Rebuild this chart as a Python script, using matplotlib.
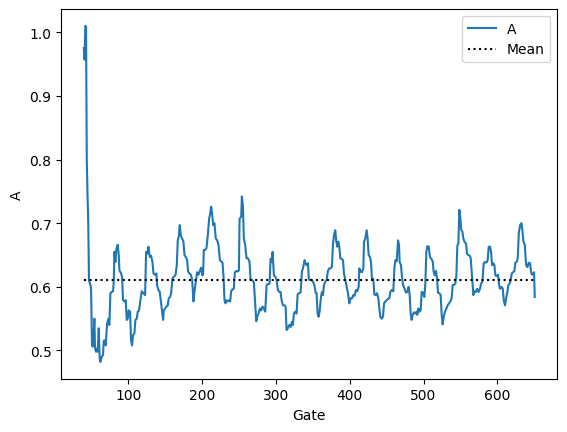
import numpy as np
import matplotlib
matplotlib.use("Agg")
from matplotlib import pyplot as plt

# values (gate, A)
gate = [
    40, 41, 42, 43, 44, 45, 46, 47, 48.9, 49.8,
    51.1, 52.0, 52.9, 54.3, 55.2, 56.5, 57.9, 58.8, 60.2, 61.5,
    62.4, 64.2, 66.0, 66.9, 67.8, 69.6, 71.5, 73.3, 74.6, 76.0,
    77.8, 79.6, 80.5, 81.4, 82.8, 84.1, 85.9, 87.3, 88.2, 90.4,
    91.8, 93.1, 94.9, 96.8, 98.1, 99.5, 100.8, 102.6, 104.0, 105.3,
    106.7, 108.5, 109.9, 111.7, 113.0, 114.8, 116.6, 118.4, 120.7, 123.0,
    124.3, 126.1, 127.5, 129.3, 131.1, 132.9, 134.3, 136.5, 138.3, 139.2,
    141.0, 142.8, 144.6, 146.0, 147.4, 148.3, 150.1, 151.9, 153.7, 155.0,
    156.9, 158.2, 160.0, 161.8, 164.1, 165.9, 167.2, 168.6, 169.9, 171.3,
    173.1, 174.9, 176.3, 178.1, 179.9, 181.2, 183.0, 184.9, 186.7, 188.5,
    189.8, 191.6, 193.4, 195.3, 197.1, 198.9, 200.7, 201.6, 202.5, 204.3,
    206.1, 207.9, 209.7, 211.1, 212.4, 213.8, 215.1, 216.9, 218.7, 220.6,
    222.4, 224.2, 226.0, 227.8, 229.1, 230.5, 231.8, 233.2, 235.0, 236.8,
    238.2, 239.5, 241.3, 243.1, 244.5, 246.8, 248.6, 250.0, 250.9, 253.1,
    254.0, 255.4, 256.7, 258.5, 260.3, 262.2, 264.4, 265.8, 267.6, 270.3,
    272.1, 273.5, 274.8, 276.6, 278.4, 280.2, 282.0, 283.8, 285.6, 287.5,
    289.3, 291.5, 292.9, 294.7, 295.6, 297.4, 299.2, 301.0, 302.8, 304.6,
    306.4, 307.8, 309.6, 311.9, 313.2, 314.6, 316.4, 318.2, 320.0, 321.8,
    323.1, 324.5, 326.3, 328.1, 329.5, 331.3, 333.5, 335.3, 336.7, 339.0,
    340.3, 341.7, 343.5, 344.8, 346.6, 348.4, 350.3, 352.1, 353.9, 355.2,
    356.6, 357.9, 359.3, 361.1, 362.5, 363.8, 365.2, 367.0, 368.8, 370.6,
    372.4, 374.2, 376.0, 377.4, 379.2, 380.5, 381.9, 383.2, 384.6, 386.0,
    387.3, 389.1, 390.9, 392.3, 394.1, 395.9, 397.7, 399.5, 401.3, 403.1,
    404.9, 406.7, 408.5, 410.3, 412.2, 413.1, 414.9, 416.7, 418.5, 419.4,
    421.2, 423.0, 424.3, 425.7, 427.5, 428.9, 430.2, 432.0, 433.4, 435.2,
    437.0, 438.8, 440.2, 441.5, 443.3, 445.1, 446.5, 448.3, 450.1, 451.9,
    453.7, 455.1, 456.9, 459.1, 460.5, 461.9, 463.7, 465.5, 466.8, 467.7,
    469.5, 470.8, 472.2, 474.4, 476.2, 478.1, 479.9, 481.2, 482.6, 483.9,
    485.3, 487.1, 488.9, 490.7, 491.6, 493.0, 494.3, 496.1, 497.5, 499.3,
    501.1, 502.4, 503.8, 505.2, 507.0, 508.8, 510.6, 512.4, 513.7, 515.1,
    516.9, 518.3, 519.6, 521.4, 523.2, 524.6, 525.9, 527.3, 529.1, 530.9,
    532.7, 534.5, 536.3, 538.1, 539.5, 541.3, 543.1, 544.5, 545.8, 547.2,
    548.5, 549.9, 551.2, 552.6, 553.9, 555.8, 557.6, 558.9, 560.7, 562.5,
    563.9, 565.7, 567.5, 569.3, 571.1, 572.9, 574.7, 576.5, 577.9, 579.7,
    581.5, 583.3, 585.1, 586.9, 588.3, 590.1, 591.5, 592.8, 594.6, 596.0,
    597.3, 599.1, 600.9, 602.3, 603.6, 605.5, 607.3, 608.6, 610.4, 611.8,
    613.6, 614.9, 616.7, 618.1, 619.5, 621.3, 623.1, 624.4, 626.2, 627.6,
    629.0, 630.8, 632.6, 633.9, 635.3, 637.1, 638.9, 640.7, 642.5, 644.3,
    645.7, 647.0, 648.8, 649.7, 650.6,
]
a_vals = [
    0.975, 0.957, 1.010, 1.009, 0.800, 0.745, 0.700, 0.610, 0.603, 0.597,
    0.508, 0.506, 0.514, 0.550, 0.503, 0.498, 0.503, 0.498, 0.535, 0.487,
    0.482, 0.490, 0.493, 0.514, 0.516, 0.508, 0.542, 0.550, 0.540, 0.590,
    0.592, 0.593, 0.608, 0.655, 0.639, 0.660, 0.666, 0.650, 0.626, 0.621,
    0.616, 0.579, 0.577, 0.579, 0.548, 0.550, 0.563, 0.561, 0.516, 0.508,
    0.524, 0.527, 0.548, 0.550, 0.561, 0.563, 0.579, 0.593, 0.590, 0.587,
    0.655, 0.652, 0.663, 0.647, 0.649, 0.639, 0.621, 0.619, 0.621, 0.603,
    0.595, 0.592, 0.574, 0.561, 0.548, 0.563, 0.566, 0.569, 0.571, 0.582,
    0.584, 0.590, 0.613, 0.616, 0.618, 0.634, 0.673, 0.679, 0.697, 0.681,
    0.676, 0.671, 0.650, 0.647, 0.642, 0.624, 0.621, 0.619, 0.611, 0.577,
    0.592, 0.608, 0.623, 0.619, 0.625, 0.630, 0.618, 0.623, 0.658, 0.658,
    0.661, 0.681, 0.707, 0.715, 0.726, 0.715, 0.697, 0.700, 0.676, 0.673,
    0.666, 0.642, 0.640, 0.638, 0.618, 0.579, 0.574, 0.579, 0.577, 0.579,
    0.577, 0.593, 0.596, 0.597, 0.623, 0.625, 0.624, 0.626, 0.707, 0.710,
    0.742, 0.728, 0.676, 0.666, 0.645, 0.645, 0.639, 0.611, 0.611, 0.607,
    0.571, 0.546, 0.553, 0.558, 0.566, 0.563, 0.569, 0.566, 0.561, 0.603,
    0.604, 0.605, 0.644, 0.639, 0.655, 0.618, 0.616, 0.611, 0.595, 0.592,
    0.592, 0.579, 0.571, 0.571, 0.569, 0.532, 0.535, 0.540, 0.537, 0.545,
    0.540, 0.558, 0.561, 0.558, 0.588, 0.590, 0.591, 0.624, 0.629, 0.642,
    0.637, 0.634, 0.637, 0.611, 0.611, 0.611, 0.608, 0.603, 0.591, 0.590,
    0.558, 0.553, 0.561, 0.584, 0.592, 0.587, 0.603, 0.608, 0.611, 0.625,
    0.629, 0.629, 0.632, 0.668, 0.684, 0.689, 0.671, 0.663, 0.671, 0.663,
    0.645, 0.644, 0.642, 0.621, 0.611, 0.600, 0.590, 0.574, 0.582, 0.582,
    0.587, 0.586, 0.595, 0.593, 0.600, 0.629, 0.624, 0.623, 0.629, 0.671,
    0.676, 0.689, 0.676, 0.650, 0.647, 0.639, 0.611, 0.613, 0.588, 0.587,
    0.590, 0.582, 0.566, 0.553, 0.550, 0.553, 0.574, 0.577, 0.579, 0.581,
    0.582, 0.592, 0.595, 0.593, 0.629, 0.642, 0.640, 0.673, 0.666, 0.639,
    0.634, 0.616, 0.603, 0.597, 0.591, 0.592, 0.600, 0.587, 0.558, 0.548,
    0.556, 0.560, 0.558, 0.561, 0.556, 0.566, 0.561, 0.563, 0.592, 0.591,
    0.584, 0.603, 0.655, 0.664, 0.663, 0.647, 0.644, 0.640, 0.624, 0.618,
    0.625, 0.613, 0.591, 0.590, 0.587, 0.556, 0.541, 0.553, 0.561, 0.566,
    0.571, 0.574, 0.577, 0.582, 0.603, 0.603, 0.605, 0.618, 0.665, 0.668,
    0.721, 0.707, 0.689, 0.687, 0.676, 0.670, 0.668, 0.652, 0.650, 0.649,
    0.645, 0.616, 0.587, 0.593, 0.592, 0.597, 0.592, 0.597, 0.605, 0.608,
    0.637, 0.639, 0.638, 0.642, 0.663, 0.663, 0.655, 0.634, 0.637, 0.634,
    0.618, 0.617, 0.619, 0.603, 0.597, 0.600, 0.597, 0.579, 0.571, 0.582,
    0.592, 0.603, 0.605, 0.611, 0.621, 0.623, 0.625, 0.638, 0.639, 0.645,
    0.684, 0.697, 0.700, 0.689, 0.671, 0.666, 0.634, 0.631, 0.638, 0.637,
    0.623, 0.619, 0.621, 0.623, 0.584,
]
mean_a = 0.611


def create_plot():
    fig, ax = plt.subplots(figsize=(6.4, 4.8), dpi=100)
    ax.plot(gate, a_vals, label='A')
    # mean line spans the same gates as the data
    ax.plot([gate[0], gate[-1]], [mean_a, mean_a], 'k:', label='Mean')
    ax.set(xlabel='Gate', ylabel='A')
    ax.legend(loc='upper right')
    fig.savefig('out.png', bbox_inches='tight')
    plt.close(fig)


if __name__ == '__main__':
    create_plot()
